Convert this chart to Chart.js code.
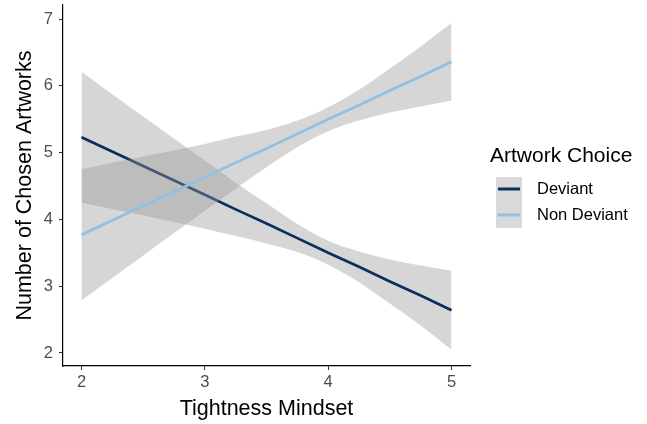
<!DOCTYPE html>
<html>
<head>
<meta charset="utf-8">
<script src="https://cdn.jsdelivr.net/npm/chart.js@4.4.0/dist/chart.umd.min.js"></script>
<style>
  html, body { margin: 0; padding: 0; background: #fff; }
  #wrap { width: 647px; height: 424px; }
</style>
</head>
<body>
<div id="wrap"><canvas id="grafico"></canvas></div>
<script>
// Dados
const tightness = [2, 2.5, 3, 3.25, 3.5, 3.75, 4, 4.25, 4.5, 4.75, 5];
const deviantFit = [5.23, 4.80, 4.37, 4.15, 3.94, 3.72, 3.50, 3.29, 3.07, 2.86, 2.64];
const deviantUpper = [6.21, 5.54, 4.88, 4.55, 4.24, 3.93, 3.68, 3.52, 3.40, 3.31, 3.23];
const deviantLower = [4.25, 4.06, 3.86, 3.75, 3.64, 3.51, 3.32, 3.06, 2.74, 2.41, 2.05];
const nonDeviantFit = [3.77, 4.20, 4.63, 4.85, 5.06, 5.28, 5.50, 5.71, 5.93, 6.14, 6.36];
const nonDeviantUpper = [4.75, 4.94, 5.13, 5.24, 5.34, 5.48, 5.68, 5.94, 6.26, 6.59, 6.94];
const nonDeviantLower = [2.79, 3.46, 4.13, 4.46, 4.78, 5.08, 5.32, 5.48, 5.60, 5.69, 5.78];
const xTicks = [2, 3, 4, 5];
const yTicks = [2, 3, 4, 5, 6, 7];
const seriesNames = ['Deviant', 'Non Deviant'];

// Cores
const corDeviant = '#0a2f5c';
const corNonDeviant = '#91c0e2';
const corFaixa = 'rgba(153, 153, 153, 0.4)';
const fonte = '"Liberation Sans", Arial, sans-serif';

const pts = (ys) => tightness.map((x, i) => ({ x: x, y: ys[i] }));

function faixa(ys, fill, order) {
    return {
        data: pts(ys),
        borderWidth: 0,
        pointRadius: 0,
        backgroundColor: corFaixa,
        fill: fill,
        cubicInterpolationMode: 'monotone',
        order: order
    };
}

// Legenda desenhada à mão (estilo ggplot)
const legendaPlugin = {
    id: 'legendaGG',
    afterDraw(chart) {
        const ctx = chart.ctx;
        ctx.save();
        ctx.fillStyle = '#000';
        ctx.font = '21px ' + fonte;
        ctx.textBaseline = 'middle';
        ctx.fillText('Artwork Choice', 490, 156);
        ctx.fillStyle = '#d9d9d9';
        ctx.fillRect(496, 177, 26, 51);
        const cores = [corDeviant, corNonDeviant];
        ctx.font = '16.5px ' + fonte;
        seriesNames.forEach((nome, i) => {
            const y = 189 + i * 26;
            ctx.strokeStyle = cores[i];
            ctx.lineWidth = 3;
            ctx.beginPath();
            ctx.moveTo(498, y);
            ctx.lineTo(520, y);
            ctx.stroke();
            ctx.fillStyle = '#000';
            ctx.fillText(nome, 537, y);
        });
        ctx.restore();
    }
};

const ctxGrafico = document.getElementById('grafico');
new Chart(ctxGrafico, {
    type: 'line',
    data: {
        datasets: [
            faixa(deviantLower, false, 5),
            faixa(deviantUpper, '-1', 5),
            {
                label: seriesNames[0],
                data: pts(deviantFit),
                borderColor: corDeviant,
                borderWidth: 2.7,
                pointRadius: 0,
                fill: false,
                order: 4
            },
            faixa(nonDeviantLower, false, 3),
            faixa(nonDeviantUpper, '-1', 3),
            {
                label: seriesNames[1],
                data: pts(nonDeviantFit),
                borderColor: corNonDeviant,
                borderWidth: 2.7,
                pointRadius: 0,
                fill: false,
                order: 2
            }
        ]
    },
    options: {
        responsive: true,
        maintainAspectRatio: false,
        animation: false,
        layout: { padding: { top: 5, right: 177, left: 4, bottom: 2 } },
        plugins: {
            legend: { display: false },
            tooltip: { enabled: false },
            filler: { propagate: false }
        },
        scales: {
            x: {
                type: 'linear',
                min: 1.85,
                max: 5.15,
                afterBuildTicks: (s) => { s.ticks = xTicks.map(v => ({ value: v })); },
                afterFit: (s) => { s.height = 56; s.paddingLeft = 0; s.paddingRight = 0; },
                grid: { drawOnChartArea: false, drawTicks: true, tickLength: 4, color: '#333', lineWidth: 1 },
                border: { display: true, color: '#000', width: 1.2 },
                ticks: { color: '#4d4d4d', font: { family: fonte, size: 16.5 }, padding: 3 },
                title: { display: true, text: 'Tightness Mindset', color: '#000', font: { family: fonte, size: 21.5 }, padding: { top: 4, bottom: 0 } }
            },
            y: {
                type: 'linear',
                min: 1.805,
                max: 7.21,
                afterBuildTicks: (s) => { s.ticks = yTicks.map(v => ({ value: v })); },
                afterFit: (s) => { s.width = 59; s.paddingTop = 0; s.paddingBottom = 0; },
                grid: { drawOnChartArea: false, drawTicks: true, tickLength: 4, color: '#333', lineWidth: 1 },
                border: { display: true, color: '#000', width: 1.2 },
                ticks: { color: '#4d4d4d', font: { family: fonte, size: 16.5 }, padding: 6 },
                title: { display: true, text: 'Number of Chosen Artworks', color: '#000', font: { family: fonte, size: 21.5 }, padding: { top: 8, bottom: 4 } }
            }
        }
    },
    plugins: [legendaPlugin]
});
</script>
</body>
</html>
